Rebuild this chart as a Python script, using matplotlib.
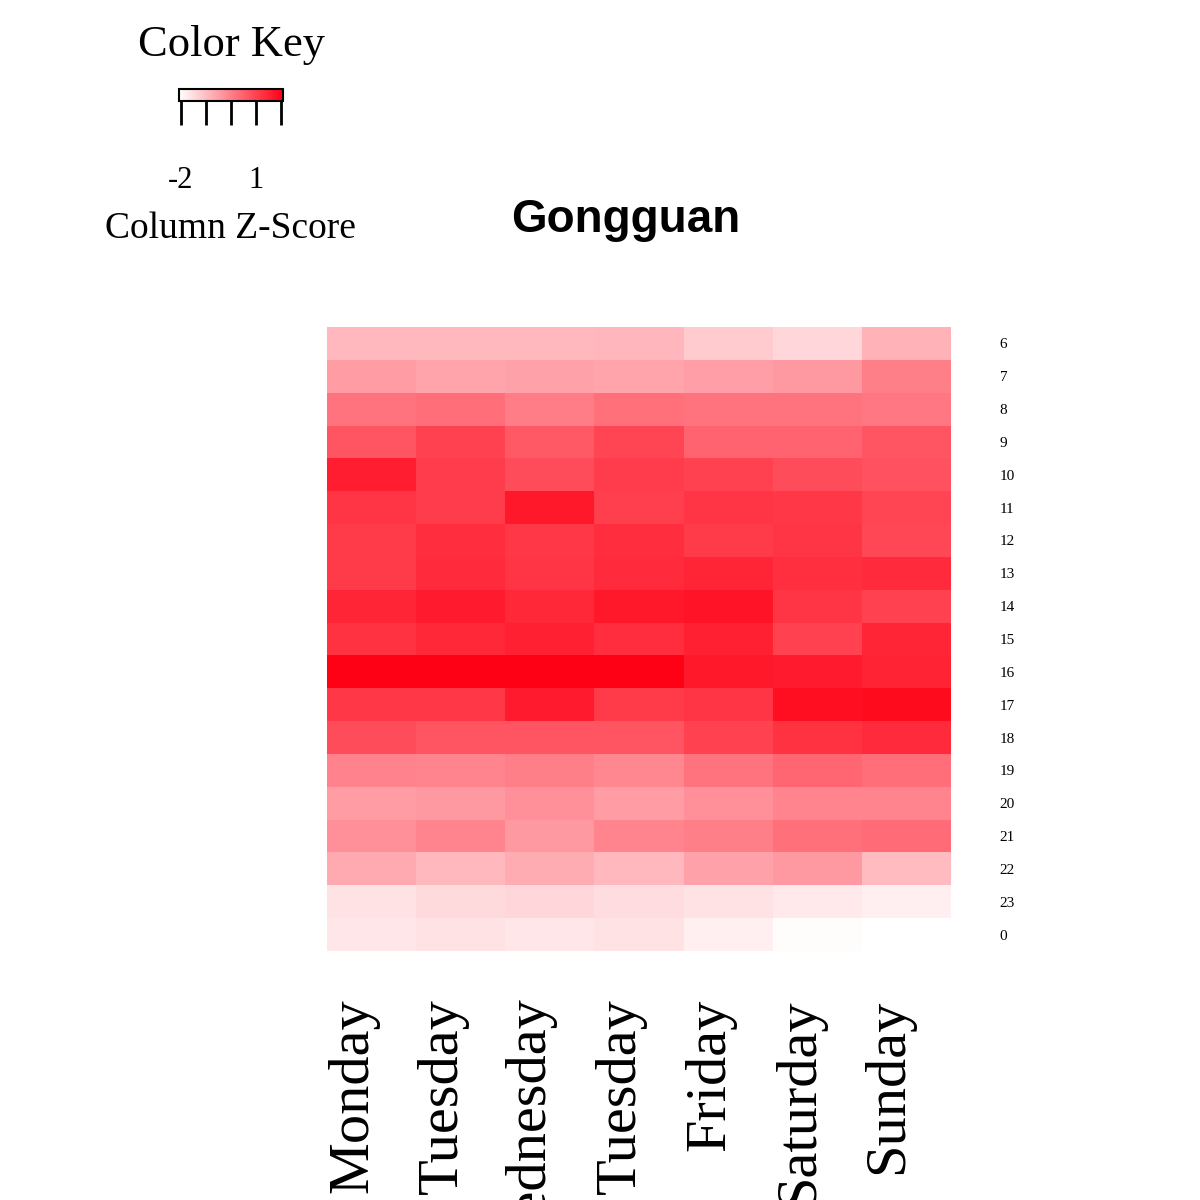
import numpy as np
import matplotlib
matplotlib.use('Agg')
import matplotlib.pyplot as plt
from matplotlib.colors import LinearSegmentedColormap, Normalize
from matplotlib.colorbar import ColorbarBase
import matplotlib.transforms as mtransforms

# Days (columns) and hours (rows), values are column z-scores
days = ['Monday', 'Tuesday', 'Wednesday', 'Tuesday', 'Friday', 'Saturday', 'Sunday']
hours = ['6', '7', '8', '9', '10', '11', '12', '13', '14', '15', '16', '17',
         '18', '19', '20', '21', '22', '23', '0']

z_mon = [-0.92, -0.46, 0.21, 0.71, 1.60, 1.22, 1.13, 1.13, 1.47, 1.26, 2.06, 1.18, 0.84, -0.04, -0.46, -0.25, -0.67, -1.60, -1.68]
z_tue = [-0.92, -0.59, 0.29, 1.01, 1.09, 1.09, 1.34, 1.39, 1.64, 1.43, 2.06, 1.18, 0.71, -0.08, -0.42, -0.08, -0.92, -1.47, -1.60]
z_wed = [-0.92, -0.55, 0.04, 0.63, 0.84, 1.68, 1.18, 1.22, 1.43, 1.55, 2.06, 1.64, 0.71, 0.00, -0.25, -0.42, -0.71, -1.43, -1.68]
z_thu = [-0.88, -0.59, 0.25, 0.97, 1.09, 1.05, 1.34, 1.39, 1.68, 1.34, 2.06, 1.13, 0.71, -0.13, -0.46, -0.08, -0.92, -1.51, -1.60]
z_fri = [-1.22, -0.50, 0.21, 0.46, 1.01, 1.22, 1.13, 1.47, 1.76, 1.55, 1.68, 1.22, 1.01, 0.21, -0.25, 0.00, -0.55, -1.60, -1.81]
z_sat = [-1.43, -0.42, 0.21, 0.46, 0.84, 1.18, 1.22, 1.30, 1.22, 1.01, 1.64, 1.85, 1.26, 0.42, -0.08, 0.25, -0.42, -1.72, -2.02]
z_sun = [-0.84, 0.00, 0.13, 0.71, 0.76, 0.97, 0.92, 1.39, 1.01, 1.47, 1.51, 1.89, 1.39, 0.29, -0.08, 0.34, -0.97, -1.81, -2.10]

key_ticks = [-2, -1, 0, 1, 2]
key_labels = ['-2', '', '', '1', '']

data = np.column_stack([z_mon, z_tue, z_wed, z_thu, z_fri, z_sat, z_sun])

cmap = LinearSegmentedColormap.from_list('wr', ['#FFFFFF', '#FF0014'])
norm = Normalize(vmin=-2.08, vmax=2.08)
serif = 'Liberation Serif'

fig = plt.figure(figsize=(12, 12), dpi=100)

# Heatmap
ax = fig.add_axes([327 / 1200, 1 - 951 / 1200, 624 / 1200, 624 / 1200])
ax.pcolormesh(np.arange(len(days) + 1), np.arange(len(hours) + 1), data,
              cmap=cmap, norm=norm)
ax.set_xlim(0, len(days))
ax.set_ylim(len(hours), 0)
for s in ax.spines.values():
    s.set_visible(False)

ax.set_xticks(np.arange(len(days)) + 0.5)
ax.set_xticklabels(days, rotation=90, fontsize=42, family=serif)
ax.tick_params(axis='x', length=0, pad=34)
shift = mtransforms.ScaledTranslation(-0.18, 0, fig.dpi_scale_trans)
for lab in ax.get_xticklabels():
    lab.set_transform(lab.get_transform() + shift)

ax.yaxis.tick_right()
ax.set_yticks(np.arange(len(hours)) + 0.5)
ax.set_yticklabels(hours, fontsize=11, family=serif)
ax.tick_params(axis='y', length=0, pad=35)

fig.text(626 / 1200, 1 - 220 / 1200, 'Gongguan', ha='center', va='center',
         fontsize=33, fontweight='bold', family='Liberation Sans')

# Color key
fig.text(231 / 1200, 1 - 45 / 1200, 'Color Key', ha='center', va='center',
         fontsize=32, family=serif)
cax = fig.add_axes([179 / 1200, 1 - 101 / 1200, 104 / 1200, 12 / 1200])
cb = ColorbarBase(cax, cmap=cmap, norm=norm, orientation='horizontal')
cb.outline.set_linewidth(1.5)
cb.set_ticks(key_ticks)
cb.set_ticklabels(key_labels)
cax.tick_params(axis='x', length=17, width=2, pad=30, labelsize=22)
for lab in cax.get_xticklabels():
    lab.set_family(serif)
fig.text(230 / 1200, 1 - 229 / 1200, 'Column Z-Score', ha='center', va='center',
         fontsize=27, family=serif)

fig.savefig('out.png', dpi=100)
